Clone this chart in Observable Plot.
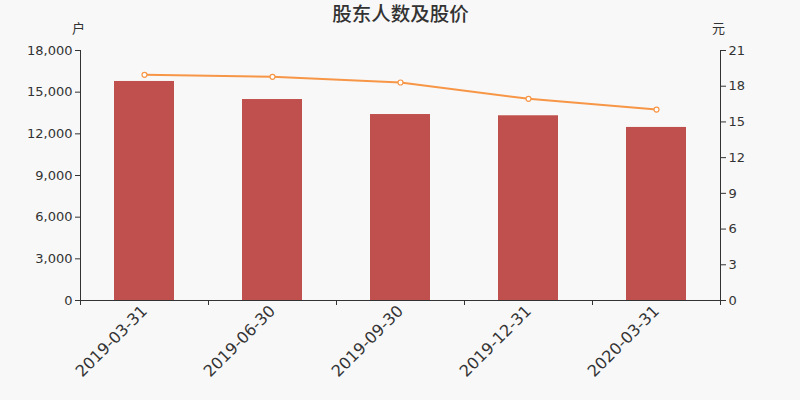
<!DOCTYPE html>
<html>
<head>
<meta charset="utf-8">
<script src="https://cdn.jsdelivr.net/npm/d3@7"></script>
<script src="https://cdn.jsdelivr.net/npm/@observablehq/plot@0.6"></script>
<style>
  html, body { margin: 0; padding: 0; background: #f8f8f8; }
  #chart { width: 800px; height: 400px; }
</style>
</head>
<body>
<div id="chart"></div>
<script>
const dates = ["2019-03-31", "2019-06-30", "2019-09-30", "2019-12-31", "2020-03-31"];
const holders = [15770, 14470, 13390, 13300, 12460];
const prices = [18.96, 18.79, 18.31, 16.94, 16.04];
const holderTicks = [0, 3000, 6000, 9000, 12000, 15000, 18000];
const priceTicks = [0, 3, 6, 9, 12, 15, 18, 21];
const title = "股东人数及股价";
const leftUnit = "户";
const rightUnit = "元";

const yMax = 18000, pMax = 21;
const toY = p => p * yMax / pMax;
const data = dates.map((d, i) => ({date: d, holders: holders[i], price: prices[i]}));

const barColor = "#c0504d";
const lineColor = "#f79646";
const axisColor = "#333";

const chart = Plot.plot({
  width: 800,
  height: 400,
  marginLeft: 80,
  marginRight: 80,
  marginTop: 50,
  marginBottom: 100,
  style: {background: "#f8f8f8", color: "#333", fontFamily: "'DejaVu Sans', 'Noto Sans CJK SC', sans-serif", fontSize: "13px"},
  x: {type: "band", domain: dates, padding: 0, axis: null},
  y: {domain: [0, yMax], axis: null},
  marks: [
    Plot.barY(data, {x: "date", y: "holders", fill: barColor, insetLeft: 34, insetRight: 34}),
    Plot.ruleY([0], {stroke: axisColor}),
    Plot.ruleX([dates[0]], {dx: -64, stroke: axisColor}),
    Plot.ruleX([dates[dates.length - 1]], {dx: 64, stroke: axisColor}),
    Plot.axisY({anchor: "left", ticks: holderTicks, tickFormat: d3.format(","), tickSize: 5, tickPadding: 3, fontSize: 13, label: null, stroke: axisColor}),
    Plot.axisY({anchor: "right", ticks: priceTicks.map(toY), tickFormat: d => String(Math.round(d * pMax / yMax)), tickSize: 5, tickPadding: 3, fontSize: 13, label: null, stroke: axisColor}),
    Plot.axisX({anchor: "bottom", tickSize: 0, tickPadding: 8, tickRotate: -45, fontSize: 16, label: null}),
    Plot.axisX({anchor: "bottom", tickSize: 5, tickFormat: () => "", dx: -64, label: null, stroke: axisColor}),
    Plot.axisX({anchor: "bottom", ticks: [dates[dates.length - 1]], tickSize: 5, tickFormat: () => "", dx: 64, label: null, stroke: axisColor}),
    Plot.line(data, {x: "date", y: d => toY(d.price), stroke: lineColor, strokeWidth: 2}),
    Plot.dot(data, {x: "date", y: d => toY(d.price), r: 2.5, fill: "white", stroke: lineColor, strokeWidth: 1.2}),
    Plot.text([title], {frameAnchor: "top", dy: -36, lineAnchor: "middle", fontSize: 19.5, fontWeight: 500, fill: "#333", textAnchor: "middle"}),
    Plot.text([leftUnit], {frameAnchor: "top-left", dx: -2, dy: -22, lineAnchor: "middle", fontSize: 13, fill: "#333", textAnchor: "middle"}),
    Plot.text([rightUnit], {frameAnchor: "top-right", dx: -2, dy: -22, lineAnchor: "middle", fontSize: 13, fill: "#333", textAnchor: "middle"})
  ]
});
document.getElementById("chart").appendChild(chart);
</script>
</body>
</html>
